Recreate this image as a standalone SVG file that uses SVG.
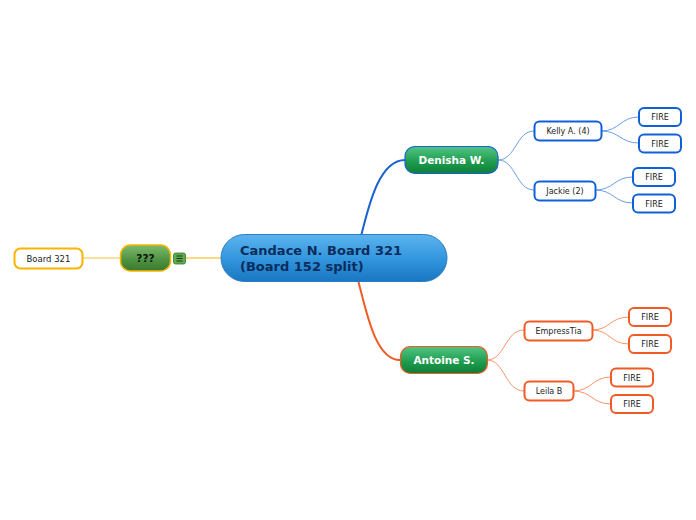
<svg xmlns="http://www.w3.org/2000/svg" width="696" height="520" viewBox="0 0 696 520">
<defs>
<linearGradient id="gBlue" x1="0" y1="0" x2="0" y2="1">
<stop offset="0" stop-color="#5cb4ee"/><stop offset="0.55" stop-color="#3094dc"/><stop offset="1" stop-color="#1a76c2"/>
</linearGradient>
<linearGradient id="gGreen" x1="0" y1="0" x2="0" y2="1">
<stop offset="0" stop-color="#52c584"/><stop offset="0.6" stop-color="#1c9a4c"/><stop offset="1" stop-color="#0e7e38"/>
</linearGradient>
<linearGradient id="gOlive" x1="0" y1="0" x2="0" y2="1">
<stop offset="0" stop-color="#7cbc6c"/><stop offset="0.6" stop-color="#4c9040"/><stop offset="1" stop-color="#3a7a30"/>
</linearGradient>
</defs>
<style>
text{font-family:"DejaVu Sans",Verdana,sans-serif;text-anchor:middle;}
.leafB{fill:#fff;stroke:#1060d8;stroke-width:2;}
.leafO{fill:#fff;stroke:#f05a24;stroke-width:2;}
.leafY{fill:#fff;stroke:#f8b400;stroke-width:2;}
.t8{font-size:8px;fill:#222;}
.t9{font-size:8.5px;fill:#222;}
.cb{fill:none;stroke:#6a9ee8;stroke-width:1;}
.co{fill:none;stroke:#f8936a;stroke-width:1;}
</style>
<rect width="696" height="520" fill="#fff"/>
<g id="connectors">
<path d="M361,236 C368,210 378,160 405,160" fill="none" stroke="#1a62d0" stroke-width="2"/>
<path d="M358,280 C366,310 375,360 400,360" fill="none" stroke="#f05a24" stroke-width="2"/>
<path d="M221,258 L185,258" stroke="#f8b400" stroke-width="1.2" fill="none"/>
<path d="M120,258 L83,258" stroke="#f8c040" stroke-width="1" fill="none"/>
<path class="cb" d="M498,160 C516,160 516,131 534,131"/>
<path class="cb" d="M498,160 C516,160 516,190 534,190"/>
<path class="cb" d="M601,131 C620,131 620,117 639,117"/>
<path class="cb" d="M601,131 C620,131 620,143 639,143"/>
<path class="cb" d="M595,190 C614,190 614,177 633,177"/>
<path class="cb" d="M595,190 C614,190 614,203 633,203"/>
<path class="co" d="M487,360 C505,360 505,330 524,330"/>
<path class="co" d="M487,360 C505,360 505,391 524,391"/>
<path class="co" d="M592,330 C610,330 610,317 629,317"/>
<path class="co" d="M592,330 C610,330 610,344 629,344"/>
<path class="co" d="M573,391 C592,391 592,377 611,377"/>
<path class="co" d="M573,391 C592,391 592,404 611,404"/>
</g>
<g id="central">
<rect x="221" y="234.5" width="226" height="47" rx="23.5" fill="url(#gBlue)" stroke="#2a7cc4" stroke-width="1"/>
<text x="240" y="255" style="text-anchor:start;font-size:13px;font-weight:bold;fill:#0c2c5c">Candace N. Board 321</text>
<text x="240" y="271" style="text-anchor:start;font-size:13px;font-weight:bold;fill:#0c2c5c">(Board 152 split)</text>
</g>
<g id="denisha">
<rect x="405" y="146.5" width="93" height="27" rx="10" fill="url(#gGreen)" stroke="#1a62d0" stroke-width="1.2"/>
<text x="451.5" y="164" style="font-size:10.5px;font-weight:bold;fill:#fff">Denisha W.</text>
</g>
<g id="antoine">
<rect x="400.5" y="346.5" width="87" height="27" rx="10" fill="url(#gGreen)" stroke="#f05a24" stroke-width="1.2"/>
<text x="444" y="364" style="font-size:10.5px;font-weight:bold;fill:#fff">Antoine S.</text>
</g>
<g id="qqq">
<rect x="120.5" y="245" width="50" height="26" rx="10" fill="url(#gOlive)" stroke="#f8b400" stroke-width="1.5"/>
<text x="145.5" y="262" style="font-size:10.5px;font-weight:bold;fill:#111">???</text>
</g>
<g id="icon">
<rect x="173.5" y="253" width="12" height="11" rx="2" fill="#5ea850" stroke="#3a7a30" stroke-width="0.8"/>
<path d="M176.5,256 h6 M176.5,258.5 h6 M176.5,261 h6" stroke="#1a3a12" stroke-width="1"/>
</g>
<g id="board321">
<rect x="14.5" y="248.5" width="68" height="20" rx="6" class="leafY"/>
<text x="48.5" y="261.5" class="t9">Board 321</text>
</g>
<g id="kelly">
<rect x="534.5" y="121.5" width="67" height="19" rx="5" class="leafB"/>
<text x="568" y="134" class="t8">Kelly A. (4)</text>
</g>
<g id="jackie">
<rect x="534.5" y="181.5" width="61" height="19" rx="5" class="leafB"/>
<text x="565" y="194" class="t8">Jackie (2)</text>
</g>
<g id="fire1"><rect x="639" y="108" width="42" height="18" rx="5" class="leafB"/><text x="660" y="120" class="t8">FIRE</text></g>
<g id="fire2"><rect x="639" y="134.5" width="42" height="18" rx="5" class="leafB"/><text x="660" y="146.5" class="t8">FIRE</text></g>
<g id="fire3"><rect x="633" y="168" width="42" height="18" rx="5" class="leafB"/><text x="654" y="180" class="t8">FIRE</text></g>
<g id="fire4"><rect x="633" y="194.5" width="42" height="18" rx="5" class="leafB"/><text x="654" y="206.5" class="t8">FIRE</text></g>
<g id="empress">
<rect x="524.5" y="321.5" width="68" height="19" rx="5" class="leafO"/>
<text x="558.5" y="334" class="t8">EmpressTia</text>
</g>
<g id="leila">
<rect x="524.5" y="381.5" width="49" height="19" rx="5" class="leafO"/>
<text x="549" y="394" class="t8">Leila B</text>
</g>
<g id="fire5"><rect x="629" y="308" width="42" height="18" rx="5" class="leafO"/><text x="650" y="320" class="t8">FIRE</text></g>
<g id="fire6"><rect x="629" y="335" width="42" height="18" rx="5" class="leafO"/><text x="650" y="347" class="t8">FIRE</text></g>
<g id="fire7"><rect x="611" y="368.5" width="42" height="18" rx="5" class="leafO"/><text x="632" y="380.5" class="t8">FIRE</text></g>
<g id="fire8"><rect x="611" y="395" width="42" height="18" rx="5" class="leafO"/><text x="632" y="407" class="t8">FIRE</text></g>
</svg>
